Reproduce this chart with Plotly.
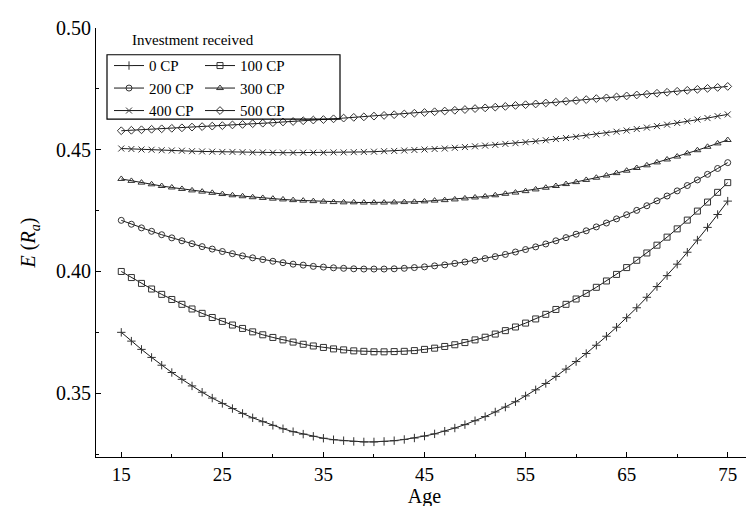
import plotly.graph_objects as go

ages = list(range(15, 76))

cp0 = [0.3750, 0.3714, 0.3680, 0.3647, 0.3615, 0.3585, 0.3557, 0.3530, 0.3504, 0.3480,
       0.3458, 0.3437, 0.3417, 0.3399, 0.3383, 0.3368, 0.3354, 0.3342, 0.3332, 0.3323,
       0.3315, 0.3309, 0.3305, 0.3302, 0.3300, 0.3300, 0.3302, 0.3305, 0.3310, 0.3316,
       0.3324, 0.3333, 0.3344, 0.3357, 0.3371, 0.3387, 0.3404, 0.3423, 0.3443, 0.3465,
       0.3489, 0.3514, 0.3540, 0.3569, 0.3599, 0.3630, 0.3663, 0.3697, 0.3734, 0.3771,
       0.3810, 0.3851, 0.3894, 0.3938, 0.3983, 0.4030, 0.4079, 0.4129, 0.4181, 0.4234,
       0.4289]
cp100 = [0.4000, 0.3975, 0.3951, 0.3928, 0.3906, 0.3885, 0.3865, 0.3846, 0.3828, 0.3811,
         0.3795, 0.3780, 0.3766, 0.3752, 0.3740, 0.3729, 0.3719, 0.3710, 0.3701, 0.3694,
         0.3688, 0.3682, 0.3678, 0.3674, 0.3672, 0.3670, 0.3670, 0.3671, 0.3672, 0.3675,
         0.3680, 0.3685, 0.3692, 0.3699, 0.3708, 0.3719, 0.3730, 0.3743, 0.3757, 0.3772,
         0.3788, 0.3805, 0.3824, 0.3844, 0.3865, 0.3887, 0.3910, 0.3935, 0.3961, 0.3988,
         0.4016, 0.4046, 0.4076, 0.4108, 0.4141, 0.4175, 0.4211, 0.4248, 0.4285, 0.4325,
         0.4365]
cp200 = [0.4210, 0.4194, 0.4179, 0.4165, 0.4151, 0.4138, 0.4126, 0.4114, 0.4102, 0.4092,
         0.4082, 0.4073, 0.4064, 0.4056, 0.4049, 0.4042, 0.4036, 0.4030, 0.4026, 0.4021,
         0.4018, 0.4015, 0.4013, 0.4011, 0.4010, 0.4010, 0.4010, 0.4011, 0.4013, 0.4016,
         0.4019, 0.4023, 0.4027, 0.4033, 0.4039, 0.4046, 0.4053, 0.4061, 0.4070, 0.4080,
         0.4090, 0.4101, 0.4113, 0.4126, 0.4139, 0.4153, 0.4167, 0.4183, 0.4199, 0.4216,
         0.4233, 0.4251, 0.4270, 0.4290, 0.4310, 0.4331, 0.4353, 0.4376, 0.4399, 0.4423,
         0.4447]
cp300 = [0.4380, 0.4372, 0.4365, 0.4358, 0.4351, 0.4345, 0.4339, 0.4333, 0.4328, 0.4323,
         0.4318, 0.4313, 0.4309, 0.4305, 0.4302, 0.4299, 0.4296, 0.4293, 0.4291, 0.4289,
         0.4287, 0.4285, 0.4284, 0.4284, 0.4283, 0.4283, 0.4283, 0.4284, 0.4285, 0.4286,
         0.4288, 0.4291, 0.4293, 0.4296, 0.4300, 0.4304, 0.4308, 0.4313, 0.4319, 0.4324,
         0.4330, 0.4337, 0.4344, 0.4351, 0.4359, 0.4367, 0.4376, 0.4385, 0.4394, 0.4404,
         0.4414, 0.4425, 0.4436, 0.4448, 0.4460, 0.4472, 0.4485, 0.4498, 0.4512, 0.4526,
         0.4540]
cp400 = [0.4505, 0.4503, 0.4501, 0.4500, 0.4498, 0.4497, 0.4496, 0.4494, 0.4493, 0.4492,
         0.4491, 0.4491, 0.4490, 0.4489, 0.4489, 0.4488, 0.4488, 0.4488, 0.4488, 0.4488,
         0.4488, 0.4489, 0.4489, 0.4490, 0.4491, 0.4492, 0.4494, 0.4495, 0.4497, 0.4499,
         0.4501, 0.4503, 0.4505, 0.4508, 0.4511, 0.4514, 0.4517, 0.4520, 0.4524, 0.4527,
         0.4531, 0.4535, 0.4539, 0.4544, 0.4548, 0.4553, 0.4558, 0.4563, 0.4568, 0.4574,
         0.4579, 0.4585, 0.4591, 0.4597, 0.4603, 0.4610, 0.4617, 0.4624, 0.4630, 0.4638,
         0.4645]
cp500 = [0.4578, 0.4580, 0.4582, 0.4584, 0.4586, 0.4588, 0.4590, 0.4593, 0.4595, 0.4597,
         0.4599, 0.4602, 0.4604, 0.4607, 0.4609, 0.4611, 0.4614, 0.4616, 0.4619, 0.4622,
         0.4624, 0.4627, 0.4630, 0.4633, 0.4635, 0.4638, 0.4641, 0.4644, 0.4647, 0.4650,
         0.4653, 0.4656, 0.4659, 0.4662, 0.4665, 0.4669, 0.4672, 0.4675, 0.4678, 0.4682,
         0.4685, 0.4688, 0.4692, 0.4695, 0.4699, 0.4702, 0.4706, 0.4710, 0.4713, 0.4717,
         0.4721, 0.4725, 0.4728, 0.4732, 0.4736, 0.4740, 0.4744, 0.4748, 0.4752, 0.4756,
         0.4760]

series_names = ["0 CP", "100 CP", "200 CP", "300 CP", "400 CP", "500 CP"]
series_values = [cp0, cp100, cp200, cp300, cp400, cp500]
symbols = ["cross-thin", "square-open", "circle-open", "triangle-up-open", "x-thin", "diamond-open"]
legend_ids = ["legend", "legend2", "legend", "legend2", "legend", "legend2"]

x_ticks = [15, 25, 35, 45, 55, 65, 75]
y_ticks = [0.35, 0.40, 0.45, 0.50]

FONT = "Liberation Serif, Times New Roman, serif"
ink = "#1a1a1a"

# plot area in pixels: left 88, right 745, top 16, bottom 449
PW, PH = 657, 433


def px(xp):
    return (xp - 88) / PW


def py(yp):
    return 1 - (yp - 16) / PH


fig = go.Figure()
for name, vals, sym, lg in zip(series_names, series_values, symbols, legend_ids):
    fig.add_trace(go.Scatter(
        x=ages, y=vals, name=name, mode="lines+markers",
        line=dict(color=ink, width=1),
        marker=dict(symbol=sym, size=6, color="#333333",
                    line=dict(color="#333333", width=1)),
        legend=lg,
    ))

legend_common = dict(yanchor="top", xanchor="left",
                     font=dict(family=FONT, size=15, color="black"),
                     bgcolor="rgba(0,0,0,0)", borderwidth=0, itemwidth=30,
                     tracegroupgap=0)

fig.update_layout(
    width=754, height=506,
    margin=dict(l=88, r=9, t=16, b=57),
    paper_bgcolor="white", plot_bgcolor="white",
    font=dict(family=FONT, color="black", size=19),
    legend=dict(x=px(101), y=py(37.5), **legend_common),
    legend2=dict(x=px(192), y=py(37.5), **legend_common),
    shapes=[dict(type="rect", xref="paper", yref="paper",
                 x0=px(99), x1=px(332), y0=py(108), y1=py(43),
                 line=dict(color="black", width=1.2), fillcolor="rgba(0,0,0,0)")],
    annotations=[dict(text="Investment received", xref="paper", yref="paper",
                      x=px(122), y=py(28),
                      xanchor="left", yanchor="middle", showarrow=False,
                      font=dict(family=FONT, size=15, color="black"))],
)

fig.update_xaxes(
    range=[12.5, 77.5], tickvals=x_ticks, ticktext=[str(v) for v in x_ticks],
    showgrid=False, zeroline=False, showline=True, linecolor="black", linewidth=1.2,
    ticks="inside", ticklen=5, tickcolor="black", tickwidth=1,
    minor=dict(dtick=5, tick0=15, ticks="inside", ticklen=3, tickcolor="black", showgrid=False),
    tickfont=dict(family=FONT, size=19),
    title=dict(text="Age", font=dict(family=FONT, size=20), standoff=1),
)
fig.update_yaxes(
    range=[0.3238, 0.5], tickvals=y_ticks, ticktext=["%.2f" % v for v in y_ticks],
    showgrid=False, zeroline=False, showline=True, linecolor="black", linewidth=1.2,
    ticks="inside", ticklen=5, tickcolor="black", tickwidth=1,
    minor=dict(dtick=0.025, tick0=0.35, ticks="inside", ticklen=3, tickcolor="black", showgrid=False),
    tickfont=dict(family=FONT, size=20),
    title=dict(text="<i>E</i> (<i>R<sub>a</sub></i>)", font=dict(family=FONT, size=20), standoff=14),
)

fig.write_html("out.html")
